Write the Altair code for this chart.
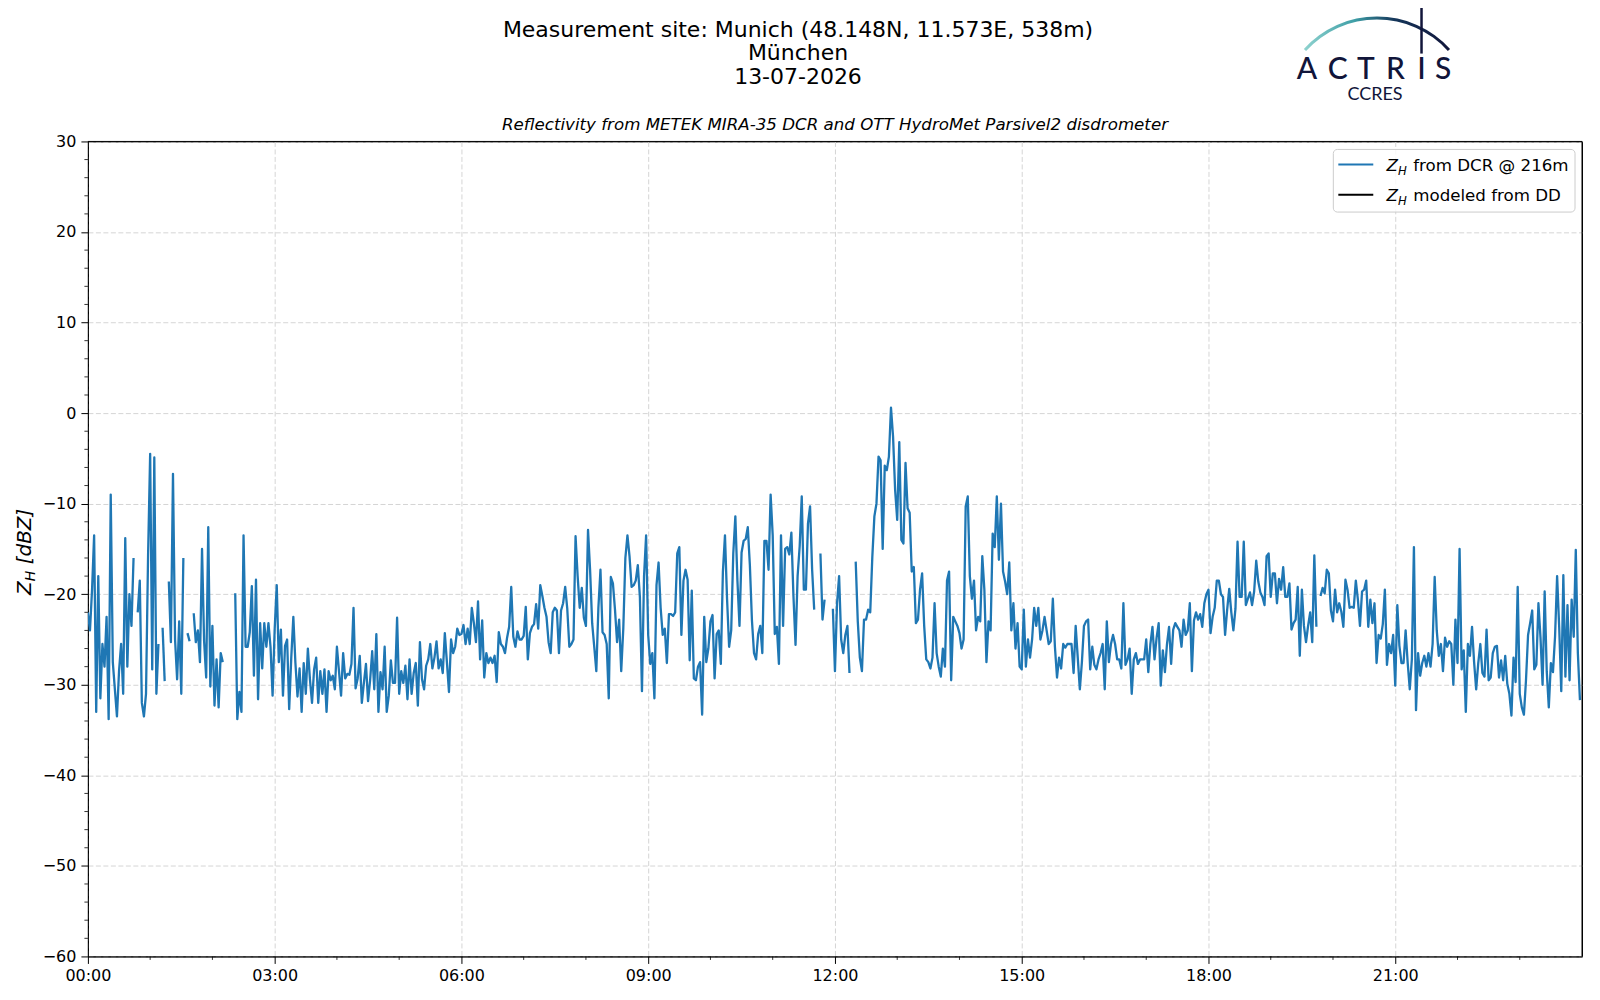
import json
import altair as alt
import pandas as pd

# ---------------- data (2-minute samples, one list per hour; None = no data) ----------------
h00 = [-22, -24, -19.5, -13.5, -33, -18, -31.5, -25.5, -28, -22.5, -33.8, -9, -27.5, -30.5, -33.5,
       -28.5, -25.5, -31, -13.8, -28, -20, -23.5, -16, None, -22, -18.5, -32, -33.5, -31, -15.7]
h01 = [-4.5, -28.3, -4.9, -31, -25.5, None, -23.7, -29.6, None, -18.6, -25.3, -6.7, -25, -29.4, -23,
       -31, -16, None, -24.3, -25.2, None, -22.1, -25.3, -24, -27.5, -15, -25.2, -29.2, -12.6, -30.2]
h02 = [-23.5, -32.3, -27.2, -32.5, -26.5, -27.5, None, None, None, None, None, -19.9, -33.8, -30.8, -33,
       -13.5, -25.8, -25.8, -24.2, -19.1, -29, -18.4, -31.6, -23.2, -28.2, -23.2, -25.8, -23.2, -25.8, -31.2]
h03 = [-23.9, -19, -27.5, -23.9, -31.2, -25.7, -25, -32.7, -27, -22.5, -27.6, -31.3, -28.2, -33, -27.6,
       -31, -26, -29.4, -32, -28.3, -27, -32, -28.5, -31, -28.3, -33, -28.5, -29.5, -29, -30.5]
h04 = [-25.8, -28.5, -31.2, -26.5, -29.3, -28.8, -28.9, -27.7, -21.5, -30.4, -29.3, -26.8, -32, -29.8, -27.7,
       -31.8, -29.5, -26.3, -30.5, -24.4, -33, -28.6, -30.5, -25.8, -33, -31.2, -27.3, -29.8, -29.8, -22.6]
h05 = [-31, -28.5, -29.8, -27.9, -31.6, -27.2, -31, -28.7, -27.6, -32.3, -25.3, -29.4, -30.5, -27.9, -27.2,
       -25.5, -28.2, -27, -25.2, -28.2, -27.2, -28.7, -24.3, -27.5, -30.8, -25, -26.5, -25.8, -23.8, -24.5]
h06 = [-24.4, -23.4, -25.5, -23.8, -25.5, -21.5, -23.2, -25.3, -20.8, -27.2, -22.9, -29.2, -26.5, -27.6, -27,
       -27.6, -26.8, -29.7, -24.2, -25.5, -25.8, -26.5, -24.8, -23.6, -19.2, -24.7, -25.8, -24.1, -25, -25]
h07 = [-24.6, -21.4, -27.2, -24.3, -23.6, -23.3, -21.1, -23.8, -19, -20.2, -21.5, -22.5, -25.3, -26.5, -22,
       -21.5, -21.8, -26.5, -21.8, -21, -19.2, -21.6, -25.8, -25.5, -25, -13.6, -18, -21.5, -19.3, -22.6]
h08 = [-23.5, -12.9, -17.3, -23.2, -25.8, -28.5, -21.5, -17.3, -24.2, -24.5, -25.5, -31.5, -18.1, -18.8, -21.7,
       -25.3, -22.8, -28.5, -23.8, -16, -13.5, -15.8, -19.2, -19, -18.5, -16.8, -20.3, -30.7, -18, -13.5]
h09 = [-24.5, -27.7, -26.5, -31.5, -19, -16.5, -21.5, -24.5, -23.8, -27.6, -22.2, -22.2, -22.4, -22, -15.5,
       -14.8, -24.5, -18.5, -17.3, -18.4, -27.3, -19.6, -29.3, -29.5, -28, -27.5, -33.3, -22.5, -27.5, -26]
h10 = [-23, -22.3, -29.3, -24.4, -24, -27.7, -17.5, -13.5, -20.5, -25.8, -24, -15.5, -11.4, -18.5, -23.5,
       -15.4, -14.1, -13.9, -12.6, -16.8, -22.9, -26.5, -27.2, -24.4, -23.5, -26.5, -14.1, -14.1, -17.3, -9]
h11 = [-13.5, -24.4, -23.6, -27.7, -13.5, -23.5, -15, -14.8, -15.6, -13.2, -20.2, -25.6, -18, -14.7, -9.2,
       -19.5, -19.5, -12.2, -10.3, -17.3, -21.7, None, None, -15.5, -22.8, -20.6, None, None, None, -21.6]
h12 = [-28.5, -21, -18, -25, -26.5, -24.5, -23.5, -28.7, None, None, -16.4, -23, -27, -28.5, -22.8,
       -22.8, -21.7, -22, -15.9, -11.4, -10, -4.8, -5.2, -15, -5.8, -6.3, -4.8, 0.6, -2.6, -8.5]
h13 = [-11.8, -3.2, -14, -14.4, -5.5, -10.5, -11, -17.5, -17, -23.2, -22.8, -19.5, -17.7, -23.5, -27.2,
       -27.5, -28.2, -27, -21, -26.5, -28, -29.1, -26, -28, -18.5, -17.5, -29.5, -22.5, -23, -23.5]
h14 = [-24.3, -26, -25, -10.3, -9.2, -18, -20.5, -18.5, -24, -22.5, -23, -15.8, -19.5, -27.5, -23,
       -24, -13.3, -14.8, -9.2, -16.2, -10, -17.5, -18.6, -20, -16.5, -24, -21, -26, -23.2, -28]
h15 = [-28.3, -21.7, -28, -25, -27, -25, -21.5, -23.5, -21.5, -25, -24, -22.5, -24, -25.5, -25.2,
       -20.5, -25.8, -29.2, -27, -28.2, -25.5, -25.9, -25.5, -25.5, -25.5, -28.7, -23.5, -27, -30.5, -27.5]
h16 = [-23.5, -23, -22.8, -28.3, -25.8, -27.8, -28.3, -27.2, -26.5, -25.5, -30.5, -23, -27.5, -25.5, -24.5,
       -25.5, -27.2, -27.2, -28.2, -21, -27.8, -27.2, -26, -31, -27.2, -26.5, -27.7, -27.2, -27.2, -27.2]
h17 = [-25, -28.6, -25.5, -23.6, -27.2, -24.8, -23.2, -30.1, -26.2, -28.6, -25.5, -23.6, -27.7, -23.9, -23.2,
       -23.6, -24, -25.8, -22.8, -24.5, -24, -21, -28.5, -22.9, -22, -22.8, -22.2, -23.6, -21, -20]
h18 = [-19.5, -24.3, -22.5, -21.5, -18.5, -18.5, -20, -20.3, -24.5, -21.7, -19.4, -22, -24, -21.6, -14.2,
       -20.3, -20.3, -14.2, -21.2, -20.5, -19.8, -21.2, -19.7, -16.3, -18.6, -19.8, -20.3, -21.2, -15.8, -15.5]
h19 = [-20.3, -17.7, -17.7, -21, -18.3, -19.5, -17, -20.3, -20.3, -18.8, -23.9, -23.2, -22.8, -19.2, -26.8,
       -19.5, -23.5, -25.3, -23.5, -22, -25.3, -15.7, -23.6, None, -20.2, -19.3, -19.9, -17.3, -17.7, -21.8]
h20 = [-23, -19.5, -22, -21, -21.9, -23.6, -18.4, -19.5, -21.5, -21.4, -21.5, -18.5, -20.6, -23.5, -19.7,
       -19.5, -18.5, -23.6, -20.6, -23.2, -21, -27.6, -24.5, -24.9, -23.3, -19.5, -27.8, -25.5, -26.5, -24.5]
h21 = [-30.1, -21.2, -25.7, -27.6, -27.6, -24, -27.6, -30.5, -27.2, -14.8, -32.8, -26.5, -29, -27.6, -26.8,
       -28, -26.5, -28, -25.5, -18.1, -24, -26.8, -25.5, -28.5, -24.8, -25.8, -25.2, -25.5, -30, -22.8]
h22 = [-27.6, -15, -28.3, -26.2, -33, -25.5, -26.8, -23.6, -27.5, -30.5, -27.6, -25.5, -28.7, -29.1, -23.9,
       -29.5, -29.2, -26.5, -25.8, -25.7, -29.2, -27.3, -29.5, -26.8, -29.9, -31, -33.4, -27, -29.7, -19.2]
h23 = [-31, -32.5, -33.3, -29.5, -24.5, -23.2, -21.8, -28.3, -27.8, -21, -24.8, -30, -19.7, -28.5, -32.5,
       -27.6, -28.6, -24.7, -18, -23.6, -30.7, -17.9, -29.1, -21.2, -29.5, -20.6, -24.7, -15.1, -26.5, -31.7]

HOURLY = [h00, h01, h02, h03, h04, h05, h06, h07, h08, h09, h10, h11,
          h12, h13, h14, h15, h16, h17, h18, h19, h20, h21, h22, h23]
STEP_MIN = 2

X_MAJOR = [0, 3, 6, 9, 12, 15, 18, 21]
X_LABELS = ["00:00", "03:00", "06:00", "09:00", "12:00", "15:00", "18:00", "21:00"]
X_MINOR = [h for h in range(1, 24) if h % 3 != 0]
Y_MAJOR = list(range(-60, 31, 10))
Y_MINOR = [v for v in range(-58, 30, 2) if v % 10 != 0]

TITLE_LINES = ["Measurement site: Munich (48.148N, 11.573E, 538m)", "München", "13-07-2026"]
SUBTITLE = "Reflectivity from METEK MIRA-35 DCR and OTT HydroMet Parsivel2 disdrometer"
LEGEND_TEXT = ["from DCR @ 216m", "modeled from DD"]
LEGEND_COLORS = ["#1f77b4", "#000000"]
LOGO_LETTERS = ["A", "C", "T", "R", "I", "S"]

# ---------------- table ----------------
rows = []
seg = 0
for h, vals in enumerate(HOURLY):
    for k, v in enumerate(vals):
        if v is None:
            seg += 1
            continue
        rows.append({"t": h + k * STEP_MIN / 60.0, "z": v, "seg": seg})
df = pd.DataFrame(rows)
one = pd.DataFrame({"k": [0]})

W, H = 1496, 816
FONT = "DejaVu Sans"
xs = alt.Scale(domain=[0, 24], nice=False, zero=False)
ys = alt.Scale(domain=[-60, 30], nice=False, zero=False)

axis_common = dict(
    title=None, labelFont=FONT, labelFontSize=16, labelColor="black",
    tickSize=7, tickColor="black", tickWidth=1, domainColor="black", domainWidth=1,
    grid=True, gridColor="#d0d0d0", gridDash=[5, 2.5], gridWidth=0.9,
    labelFlush=False, labelOverlap=False,
)
XAXIS = alt.Axis(values=X_MAJOR, labelPadding=4,
                 labelExpr=f"{json.dumps(X_LABELS)}[round(datum.value / 3)]", **axis_common)
YAXIS = alt.Axis(values=Y_MAJOR, labelPadding=5, **axis_common)

line = alt.Chart(df).mark_line(color="#1f77b4", strokeWidth=2.3, strokeJoin="round", clip=True).encode(
    x=alt.X("t:Q", scale=xs, axis=XAXIS),
    y=alt.Y("z:Q", scale=ys, axis=YAXIS),
    detail="seg:N",
)

xminor = alt.Chart(pd.DataFrame({"t": X_MINOR})).mark_rule(color="black", strokeWidth=0.8).encode(
    x=alt.X("t:Q", scale=xs, axis=XAXIS), y=alt.value(H), y2=alt.value(H + 3.5))
yminor = alt.Chart(pd.DataFrame({"z": Y_MINOR})).mark_rule(color="black", strokeWidth=0.8).encode(
    y=alt.Y("z:Q", scale=ys, axis=YAXIS), x=alt.value(0), x2=alt.value(-3.5))

# solid frame on top and right (drawn over the dashed gridlines)
top_border = alt.Chart(one).mark_rule(color="black", strokeWidth=1).encode(
    x=alt.value(0), x2=alt.value(W), y=alt.value(0))
right_border = alt.Chart(one).mark_rule(color="black", strokeWidth=1).encode(
    x=alt.value(W), y=alt.value(0), y2=alt.value(H))


def txt(text, x, y, size, **kw):
    return alt.Chart(one).mark_text(text=text, font=kw.pop("font", FONT), fontSize=size,
                                    color=kw.pop("color", "black"), **kw).encode(
        x=alt.value(x), y=alt.value(y))


layers = [line, xminor, yminor, top_border, right_border]

# titles
for i, s in enumerate(TITLE_LINES):
    layers.append(txt(s, 711, -105 + 23.5 * i, 22, align="center", baseline="alphabetic"))
layers.append(txt(SUBTITLE, 748, -11, 16.7, align="center", baseline="alphabetic", fontStyle="italic"))

# y-axis title  Z_H [dBZ]
layers.append(txt("Z", -56.5, 454, 20, align="left", baseline="alphabetic", angle=270, fontStyle="italic"))
layers.append(txt("H", -52.5, 440.3, 14, align="left", baseline="alphabetic", angle=270, fontStyle="italic"))
layers.append(txt("[dBZ]", -56.5, 423.4, 20, align="left", baseline="alphabetic", angle=270, fontStyle="italic"))

# legend
layers.append(alt.Chart(one).mark_rect(fill="white", fillOpacity=0.8, stroke="#cccccc", strokeWidth=1,
                                       cornerRadius=4).encode(
    x=alt.value(1247), x2=alt.value(1489), y=alt.value(8), y2=alt.value(70.7)))
for i, (label, col) in enumerate(zip(LEGEND_TEXT, LEGEND_COLORS)):
    dy = 30.3 * i
    layers.append(alt.Chart(one).mark_rule(color=col, strokeWidth=2.1).encode(
        x=alt.value(1252), x2=alt.value(1287), y=alt.value(23 + dy)))
    layers.append(txt("Z", 1300.3, 29.7 + dy, 16.7, align="left", baseline="alphabetic", fontStyle="italic"))
    layers.append(txt("H", 1311.7, 33.5 + dy, 11.7, align="left", baseline="alphabetic", fontStyle="italic"))
    layers.append(txt(label, 1327, 29.7 + dy, 16.7, align="left", baseline="alphabetic"))

# logo (ACTRIS CCRES)
NAVY = "#11153a"
layers.append(alt.Chart(one).mark_arc(
    radius=98.5, radius2=95.5,
    fill={"gradient": "linear", "x1": 0, "y1": 0, "x2": 1, "y2": 0,
          "stops": [{"offset": 0, "color": "#8fd3cf"}, {"offset": 0.35, "color": "#3e9ea6"},
                    {"offset": 0.62, "color": "#15365a"}, {"offset": 1, "color": NAVY}]},
).encode(x=alt.value(1290.7), y=alt.value(-26.7), theta=alt.value(5.445), theta2=alt.value(7.121)))
layers.append(alt.Chart(one).mark_rule(color=NAVY, strokeWidth=2.5).encode(
    x=alt.value(1335.3), y=alt.value(-139.5), y2=alt.value(-88)))
LOGO_X = [1220.7, 1251.3, 1279.7, 1309.3, 1335.3, 1357]
for letter, lx in zip(LOGO_LETTERS, LOGO_X):
    layers.append(txt(letter, lx, -63, 30, font="Lato", color=NAVY, align="center", baseline="alphabetic",
                      fontWeight=500))
layers.append(txt("CCRES", 1288.7, -42, 18, font="Lato", color=NAVY, align="center", baseline="alphabetic"))

chart = alt.layer(*layers).properties(
    width=W, height=H,
    autosize=alt.AutoSizeParams(type="none"),
    padding={"left": 80, "top": 133, "right": 10, "bottom": 35},
).configure_view(stroke="black", strokeWidth=1)

chart.save("out.html", embed_options={"renderer": "svg", "actions": False})
